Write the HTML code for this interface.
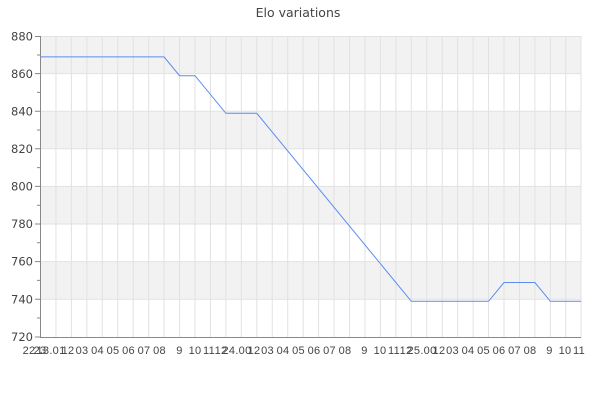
<!DOCTYPE html>
<html><head><meta charset="utf-8"><style>
html,body{margin:0;padding:0;background:#fff;}
svg{display:block;font-family:"DejaVu Sans","Liberation Sans",sans-serif;}
</style></head><body>
<svg width="600" height="400" viewBox="0 0 600 400">
<text x="298" y="17" text-anchor="middle" font-size="12.5" fill="#444">Elo variations</text>
<g fill="#f2f2f2">
<rect x="40.5" y="36" width="540.5" height="37.6"/>
<rect x="40.5" y="111.2" width="540.5" height="37.6"/>
<rect x="40.5" y="186.4" width="540.5" height="37.6"/>
<rect x="40.5" y="261.6" width="540.5" height="37.6"/>
</g>
<g stroke="#e2e2e2" stroke-width="1">
<path d="M40.5 36.5H581M40.5 73.6H581M40.5 111.2H581M40.5 148.8H581M40.5 186.4H581M40.5 224H581M40.5 261.6H581M40.5 299.2H581"/>
<path d="M55.95 36V337M71.4 36V337M86.85 36V337M102.3 36V337M117.75 36V337M133.2 36V337M148.65 36V337M164.1 36V337M179.55 36V337M195 36V337M210.45 36V337M225.9 36V337M241.35 36V337M256.8 36V337M272.25 36V337M287.7 36V337M303.15 36V337M318.6 36V337M334.05 36V337M349.5 36V337M364.95 36V337M380.4 36V337M395.85 36V337M411.3 36V337M426.75 36V337M442.2 36V337M457.65 36V337M473.1 36V337M488.55 36V337M504 36V337M519.45 36V337M534.9 36V337M550.35 36V337M565.8 36V337M581 36V337"/>
</g>
<g stroke="#888" stroke-width="1" fill="none">
<path d="M40.5 36V337.5H581"/>
<path d="M35 36.5H40.5M35 73.6H40.5M35 111.2H40.5M35 148.8H40.5M35 186.4H40.5M35 224H40.5M35 261.6H40.5M35 299.2H40.5M35 337H40.5"/>
<path d="M37 55H40.5M37 92.4H40.5M37 130H40.5M37 167.6H40.5M37 205.2H40.5M37 242.8H40.5M37 280.4H40.5M37 318H40.5"/>
</g>
<g font-size="11.5" fill="#444" text-anchor="end">
<text x="33" y="40.5">880</text>
<text x="33" y="78">860</text>
<text x="33" y="115.5">840</text>
<text x="33" y="153">820</text>
<text x="33" y="190.5">800</text>
<text x="33" y="228">780</text>
<text x="33" y="265.5">760</text>
<text x="33" y="303.5">740</text>
<text x="33" y="341">720</text>
</g>
<polyline fill="none" stroke="#5b8def" stroke-width="1" points="40.5,56.9 164.1,56.9 179.55,75.7 195,75.7 225.9,113.3 256.8,113.3 411.3,301.3 488.55,301.3 504,282.5 534.9,282.5 550.35,301.3 581.25,301.3"/>
<g font-size="11" fill="#444" text-anchor="middle" font-family="Liberation Sans, sans-serif" letter-spacing="0.3">
<text x="29" y="354">22</text>
<text x="40" y="354">23</text>
<text x="51" y="354">13.01</text>
<text x="68" y="354">12</text>
<text x="82" y="354">03</text>
<text x="97.5" y="354">04</text>
<text x="113" y="354">05</text>
<text x="128.5" y="354">06</text>
<text x="144" y="354">07</text>
<text x="159.5" y="354">08</text>
<text x="179.5" y="354">9</text>
<text x="195" y="354">10</text>
<text x="209" y="354">11</text>
<text x="221" y="354">12</text>
<text x="237" y="354">24.00</text>
<text x="254" y="354">12</text>
<text x="267.5" y="354">03</text>
<text x="283" y="354">04</text>
<text x="298.5" y="354">05</text>
<text x="314" y="354">06</text>
<text x="329.5" y="354">07</text>
<text x="345" y="354">08</text>
<text x="364.5" y="354">9</text>
<text x="380" y="354">10</text>
<text x="394" y="354">11</text>
<text x="406" y="354">12</text>
<text x="422" y="354">25.00</text>
<text x="439" y="354">12</text>
<text x="452.5" y="354">03</text>
<text x="468" y="354">04</text>
<text x="483.5" y="354">05</text>
<text x="499" y="354">06</text>
<text x="514.5" y="354">07</text>
<text x="530" y="354">08</text>
<text x="549.5" y="354">9</text>
<text x="565" y="354">10</text>
<text x="579" y="354">11</text>
</g>
</svg>
</body></html>
